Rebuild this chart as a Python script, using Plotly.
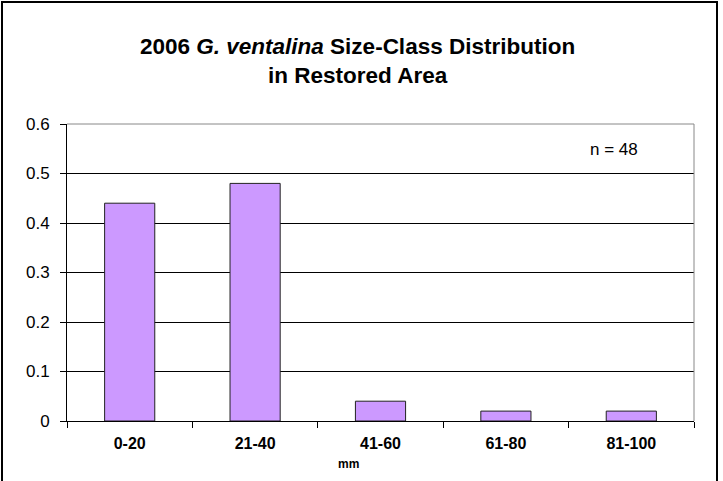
import plotly.graph_objects as go

categories = ["0-20", "21-40", "41-60", "61-80", "81-100"]
values = [0.44, 0.48, 0.04, 0.02, 0.02]
y_ticks = [0, 0.1, 0.2, 0.3, 0.4, 0.5, 0.6]
y_ticklabels = ["0", "0.1", "0.2", "0.3", "0.4", "0.5", "0.6"]

FONT = "Arial, Liberation Sans, sans-serif"

fig = go.Figure()
fig.add_trace(go.Bar(
    x=categories, y=values,
    marker=dict(color="#CC99FF", line=dict(color="#222222", width=1)),
    width=0.4,
))

L, R, T, B = 67, 29, 124, 60
W, H = 723, 481
pw, ph = W - L - R, H - T - B

def px_x(p):
    return (p - L) / pw

def px_y(p):
    return (H - B - p) / ph

fig.update_layout(
    width=W, height=H,
    margin=dict(l=L, r=R, t=T, b=B, autoexpand=False),
    paper_bgcolor="white", plot_bgcolor="white",
    showlegend=False,
    font=dict(family=FONT, color="black"),
    xaxis=dict(
        type="category", tickson="boundaries", ticks="outside", ticklen=6,
        tickcolor="black", showline=True, linecolor="black", linewidth=1,
        showgrid=False, tickfont=dict(size=16, weight="bold"),
        range=[-0.5, 4.5], automargin=False, ticklabelstandoff=8,
    ),
    yaxis=dict(
        range=[0, 0.6], tickvals=y_ticks, ticktext=y_ticklabels,
        ticks="outside", ticklen=6, tickcolor="black",
        showline=True, linecolor="black", linewidth=1,
        showgrid=True, gridcolor="black", gridwidth=1,
        tickfont=dict(size=17), zeroline=False, automargin=False,
        ticklabelstandoff=7,
    ),
    shapes=[
        dict(type="line", xref="paper", yref="paper",
             x0=px_x(2), x1=px_x(2), y0=px_y(520), y1=px_y(1),
             line=dict(color="black", width=2), layer="above"),
        dict(type="line", xref="paper", yref="paper",
             x0=px_x(717), x1=px_x(717), y0=px_y(520), y1=px_y(1),
             line=dict(color="black", width=2), layer="above"),
        dict(type="line", xref="paper", yref="paper",
             x0=1, x1=1, y0=0, y1=1, line=dict(color="#888888", width=1)),
        dict(type="line", xref="paper", yref="paper",
             x0=0, x1=1, y0=1, y1=1, line=dict(color="#888888", width=1)),
    ],
    annotations=[
        dict(text="2006 <i>G. ventalina</i> Size-Class Distribution<br>in Restored Area",
             xref="paper", yref="paper", x=px_x(357), y=px_y(61), showarrow=False,
             xanchor="center", yanchor="middle",
             font=dict(size=22.5, weight="bold", family=FONT), align="center"),
        dict(text="n = 48", xref="paper", yref="paper", x=px_x(614), y=px_y(149),
             showarrow=False, xanchor="center", yanchor="middle",
             font=dict(size=17, family=FONT)),
        dict(text="mm", xref="paper", yref="paper", x=px_x(348), y=px_y(464),
             showarrow=False, xanchor="center", yanchor="middle",
             font=dict(size=12, weight="bold", family=FONT)),
    ],
)

post = (
    "document.body.style.margin='0';document.body.style.overflow='hidden';"
    "var b=document.createElement('div');"
    "b.style.cssText='position:absolute;left:1px;top:1px;width:717px;height:0;"
    "border-top:2px solid black;z-index:10;pointer-events:none;';"
    "document.body.appendChild(b);"
)

fig.write_html("out.html", config={"displayModeBar": False}, post_script=post)
